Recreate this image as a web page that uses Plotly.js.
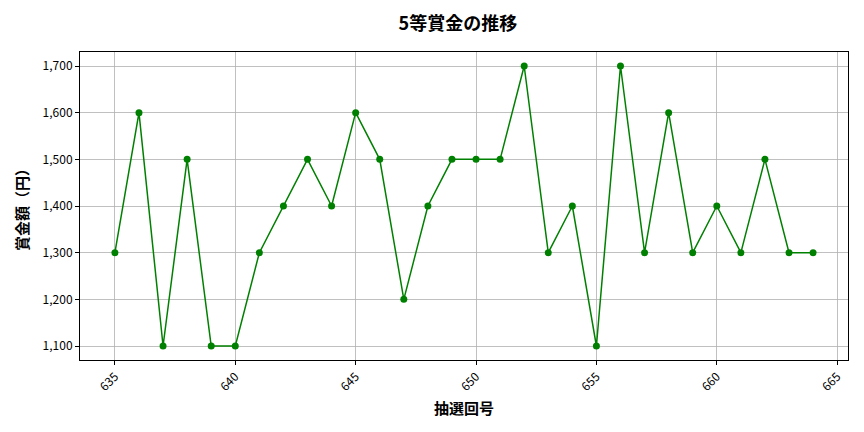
<!DOCTYPE html>
<html>
<head>
<meta charset="utf-8">
<script src="https://cdn.plot.ly/plotly-3.0.1.min.js"></script>
<style>
  html, body { margin: 0; padding: 0; background: #fff; }
  #chart { width: 864px; height: 432px; }
</style>
</head>
<body>
<div id="chart"></div>
<script>
// draw numbers and 5th prize amounts (yen)
var drawNumbers = [635, 636, 637, 638, 639, 640, 641, 642, 643, 644,
                   645, 646, 647, 648, 649, 650, 651, 652, 653, 654,
                   655, 656, 657, 658, 659, 660, 661, 662, 663, 664];
var prizeYen = [1300, 1600, 1100, 1500, 1100, 1100, 1300, 1400, 1500, 1400,
                1600, 1500, 1200, 1400, 1500, 1500, 1500, 1700, 1300, 1400,
                1100, 1700, 1300, 1600, 1300, 1400, 1300, 1500, 1300, 1300];
var xTicks = [635, 640, 645, 650, 655, 660, 665];
var yTicks = [1100, 1200, 1300, 1400, 1500, 1600, 1700];

var font = '"Noto Sans CJK JP", "Noto Sans", "DejaVu Sans", sans-serif';

var trace = {
    x: drawNumbers,
    y: prizeYen,
    type: 'scatter',
    mode: 'lines+markers',
    line: { color: 'green', width: 1.5 },
    marker: { color: 'green', size: 7 },
    hoverinfo: 'x+y'
};

var layout = {
    width: 864,
    height: 432,
    paper_bgcolor: '#fff',
    plot_bgcolor: '#fff',
    font: { family: font, color: '#000', size: 12 },
    margin: { l: 80, r: 16, t: 52, b: 72 },
    title: {
        text: '<b>5等賞金の推移</b>',
        font: { family: font, size: 18, color: '#000' },
        x: 0.53, xanchor: 'center',
        y: 0.945, yanchor: 'middle'
    },
    showlegend: false,
    xaxis: {
        range: [633.55, 665.45],
        tickvals: xTicks,
        ticktext: xTicks.map(String),
        tickangle: -45,
        ticks: 'outside', ticklen: 4, tickcolor: '#000',
        showgrid: true, gridcolor: '#b0b0b0', gridwidth: 0.8,
        zeroline: false,
        showline: true, linecolor: '#000', linewidth: 1, mirror: true,
        tickfont: { family: font, size: 12, color: '#000' },
        title: { text: '<b>抽選回号</b>', font: { family: font, size: 15 }, standoff: 10 }
    },
    yaxis: {
        range: [1070, 1730],
        tickvals: yTicks,
        ticktext: yTicks.map(function (v) { return v.toLocaleString('en-US'); }),
        ticks: 'outside', ticklen: 4, tickcolor: '#000',
        showgrid: true, gridcolor: '#b0b0b0', gridwidth: 0.8,
        zeroline: false,
        showline: true, linecolor: '#000', linewidth: 1, mirror: true,
        tickfont: { family: font, size: 12, color: '#000' },
        title: { text: '<b>賞金額（円）</b>', font: { family: font, size: 15 }, standoff: 10 }
    }
};

Plotly.newPlot('chart', [trace], layout, { displayModeBar: false, staticPlot: true });
</script>
</body>
</html>
